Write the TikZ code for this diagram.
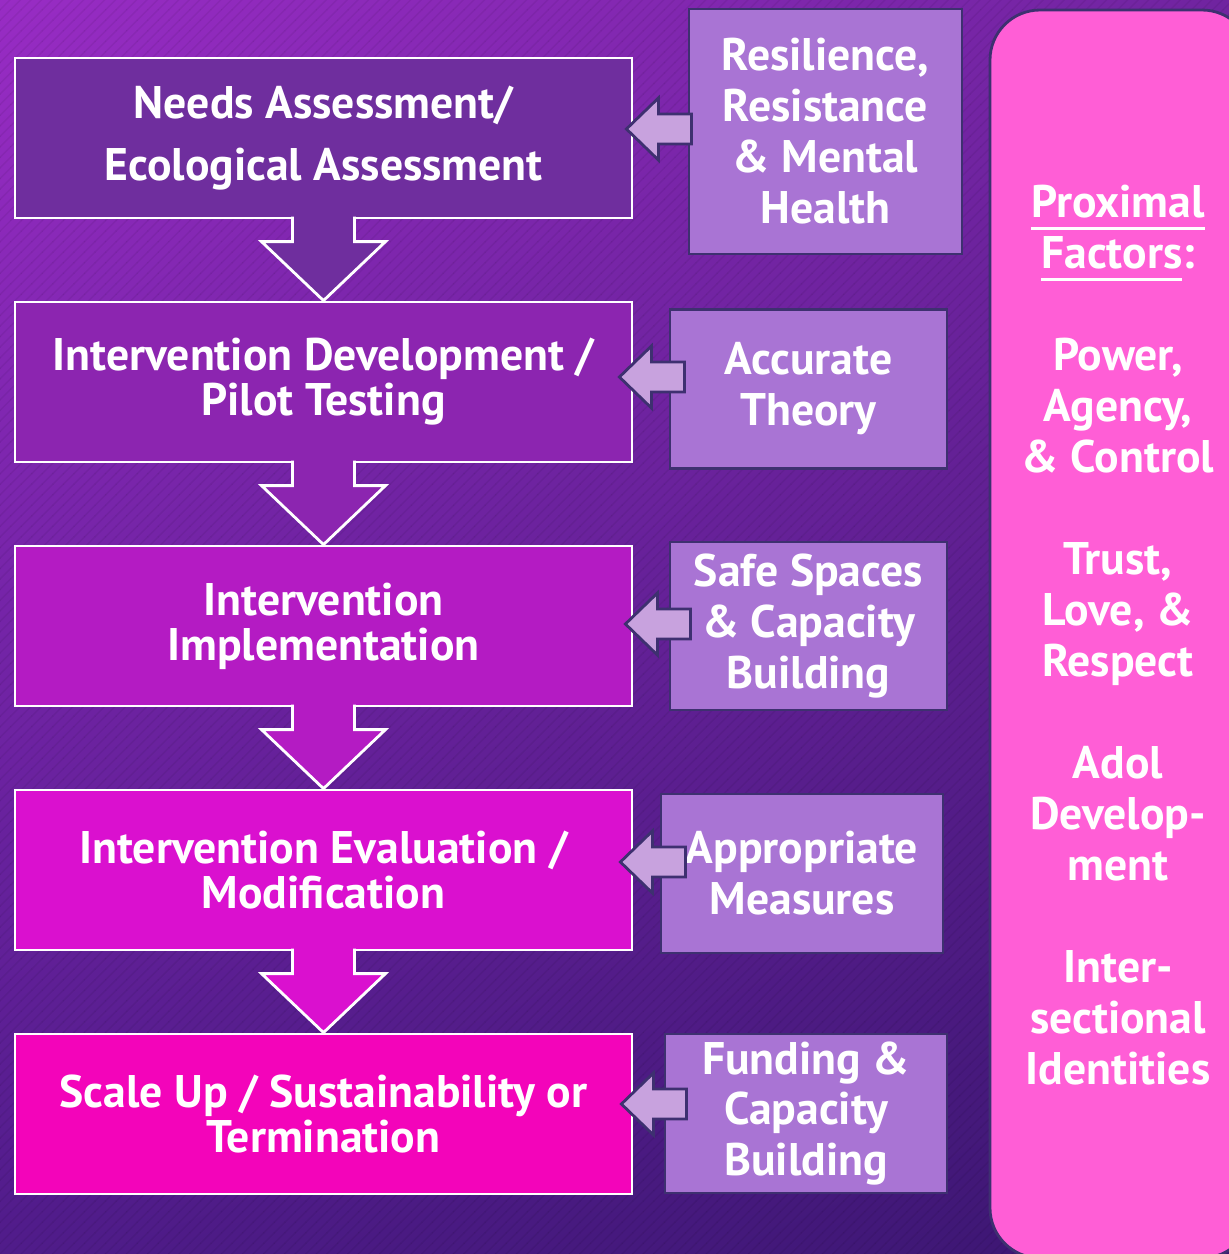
\documentclass[tikz,border=0pt]{standalone}
\usepackage{fontspec}
\setmainfont{PT Sans}
\usetikzlibrary{calc,positioning,patterns,shadings}

\definecolor{bgtl}{RGB}{152,44,196}
\definecolor{bgtr}{RGB}{112,36,160}
\definecolor{bgbl}{RGB}{80,28,138}
\definecolor{bgbr}{RGB}{58,22,112}
\definecolor{stageA}{RGB}{111,46,158}
\definecolor{stageB}{RGB}{140,37,176}
\definecolor{stageC}{RGB}{180,27,195}
\definecolor{stageD}{RGB}{218,16,207}
\definecolor{stageE}{RGB}{243,4,186}
\definecolor{factorfill}{RGB}{169,116,212}
\definecolor{factorline}{RGB}{62,48,112}
\definecolor{arrowfill}{RGB}{200,162,222}
\definecolor{panelpink}{RGB}{255,94,214}

\newcommand{\proxul}[1]{\leavevmode\setbox0\hbox{#1}\rlap{\raisebox{-3.6pt}{\rule{\wd0}{1pt}}}\box0}

\begin{document}
\begin{tikzpicture}[x=0.1mm, y=-0.1mm,
    stage/.style={draw=white, line width=0.8pt, minimum width=61.7mm, minimum height=16mm,
        inner sep=0pt, align=center, text=white, font=\fontsize{13}{12.8}\selectfont\bfseries},
    factor/.style={draw=factorline, fill=factorfill, line width=0.8pt, inner sep=0pt,
        align=center, text=white, font=\fontsize{13}{14.5}\selectfont\bfseries},
    blockarrow/.style={draw=factorline, fill=arrowfill, line width=0.8pt}]
    \useasboundingbox (0,0) rectangle (1229,1254);
    \clip (0,0) rectangle (1229,1254);

    % Background
    \shade[upper left=bgtl, upper right=bgtr, lower left=bgbl, lower right=bgbr] (0,0) rectangle (1229,1254);
    \fill[pattern=north east lines, pattern color=black, opacity=0.06] (0,0) rectangle (1229,1254);

    % Steps (left column)
    \node[stage, fill=stageA, font=\fontsize{13}{17.6}\selectfont\bfseries] (s1) at (323.5,138) {Needs Assessment/\\Ecological Assessment};
    \node[stage, fill=stageB] (s2) at (323.5,382) {Intervention Development /\\Pilot Testing};
    \node[stage, fill=stageC] (s3) at (323.5,626) {Intervention\\Implementation};
    \node[stage, fill=stageD] (s4) at (323.5,870) {Intervention Evaluation /\\Modification};
    \node[stage, fill=stageE] (s5) at (323.5,1114) {Scale Up / Sustainability or\\Termination};

    % Down arrows between steps
    \filldraw[fill=stageA, draw=white, line width=0.8pt] ($(s2.north)+(-31,-84)$) -- ++(0,25) -- ++(-31,0) -- (s2.north) -- ++(62,-59) -- ++(-31,0) -- ++(0,-25);
    \fill[stageA] ($(s2.north)+(-29.5,-88)$) rectangle ($(s2.north)+(29.5,-80)$);
    \filldraw[fill=stageB, draw=white, line width=0.8pt] ($(s3.north)+(-31,-84)$) -- ++(0,25) -- ++(-31,0) -- (s3.north) -- ++(62,-59) -- ++(-31,0) -- ++(0,-25);
    \fill[stageB] ($(s3.north)+(-29.5,-88)$) rectangle ($(s3.north)+(29.5,-80)$);
    \filldraw[fill=stageC, draw=white, line width=0.8pt] ($(s4.north)+(-31,-84)$) -- ++(0,25) -- ++(-31,0) -- (s4.north) -- ++(62,-59) -- ++(-31,0) -- ++(0,-25);
    \fill[stageC] ($(s4.north)+(-29.5,-88)$) rectangle ($(s4.north)+(29.5,-80)$);
    \filldraw[fill=stageD, draw=white, line width=0.8pt] ($(s5.north)+(-31,-84)$) -- ++(0,25) -- ++(-31,0) -- (s5.north) -- ++(62,-59) -- ++(-31,0) -- ++(0,-25);
    \fill[stageD] ($(s5.north)+(-29.5,-88)$) rectangle ($(s5.north)+(29.5,-80)$);

    % Factors (middle column)
    \node[factor, minimum width=27.3mm, minimum height=24.5mm] (f1) at (825.5,131.5) {Resilience,\\Resistance\\\& Mental\\Health};
    \node[factor, minimum width=27.7mm, minimum height=15.9mm] (f2) at (808.5,389) {Accurate\\Theory};
    \node[factor, minimum width=27.7mm, minimum height=16.8mm] (f3) at (808.5,626) {Safe Spaces\\\& Capacity\\Building};
    \node[factor, minimum width=28.2mm, minimum height=15.9mm] (f4) at (802,873.5) {Appropriate\\Measures};
    \node[factor, minimum width=28.2mm, minimum height=15.9mm] (f5) at (806,1113.5) {Funding \&\\Capacity\\Building};

    % Block arrows from factors to steps
    \filldraw[blockarrow] ($(s1.east)+(-7,-9)$) -- ++(32,-31) -- ++(0,16) -- ++(33,0) -- ++(0,30) -- ++(-33,0) -- ++(0,16) -- cycle;
    \filldraw[blockarrow] ($(s2.east)+(-14,-5)$) -- ++(32,-31) -- ++(0,16) -- ++(33,0) -- ++(0,30) -- ++(-33,0) -- ++(0,16) -- cycle;
    \filldraw[blockarrow] ($(s3.east)+(-8,-2)$) -- ++(32,-31) -- ++(0,16) -- ++(33,0) -- ++(0,30) -- ++(-33,0) -- ++(0,16) -- cycle;
    \filldraw[blockarrow] ($(s4.east)+(-13,-8)$) -- ++(32,-31) -- ++(0,16) -- ++(33,0) -- ++(0,30) -- ++(-33,0) -- ++(0,16) -- cycle;
    \filldraw[blockarrow] ($(s5.east)+(-12,-10)$) -- ++(32,-31) -- ++(0,16) -- ++(33,0) -- ++(0,30) -- ++(-33,0) -- ++(0,16) -- cycle;

    % Proximal factors panel
    \draw[fill=panelpink, draw=factorline, line width=0.8pt, rounded corners=5mm] (990,10) rectangle (1252,1258);
    \node[align=center, text=white, inner sep=0pt, font=\fontsize{13}{14.5}\selectfont\bfseries] (prox) at (1118,635)
        {\proxul{Proximal}\\\proxul{Factors}:\\[14.5pt]Power,\\Agency,\\\& Control\\[14.5pt]Trust,\\Love, \&\\Respect\\[14.5pt]Adol\\Develop-\\ment\\[14.5pt]Inter-\\sectional\\Identities};
\end{tikzpicture}
\end{document}
